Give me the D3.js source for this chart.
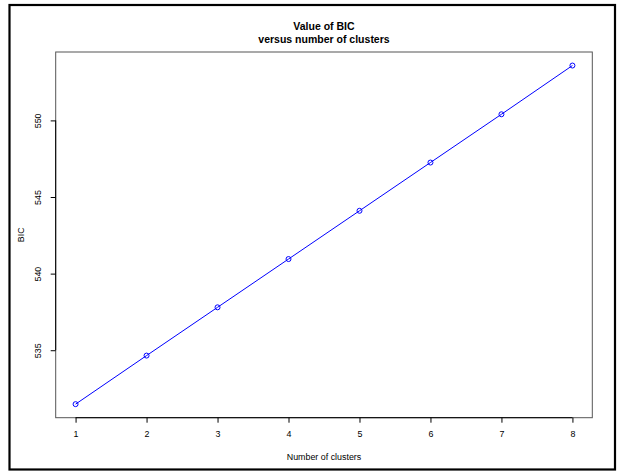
<!DOCTYPE html>
<html><head><meta charset="utf-8">
<script src="https://cdn.jsdelivr.net/npm/d3@7"></script>
<style>body{margin:0;background:#fff}svg{display:block}text{font-family:"Liberation Sans",Arial,Helvetica,sans-serif;fill:#000}</style>
</head><body><svg id="c" width="618" height="472"></svg>
<script>
const clusters = [1, 2, 3, 4, 5, 6, 7, 8];
const bic = [531.48, 534.65, 537.8, 540.95, 544.1, 547.25, 550.4, 553.58];
const xTicks = [1, 2, 3, 4, 5, 6, 7, 8];
const yTicks = [535, 540, 545, 550];
const titleLines = ["Value of BIC", "versus number of clusters"];
const xLabel = "Number of clusters";
const yLabel = "BIC";

const svg = d3.select("#c");
const L = 55.7, R = 592.3, T = 52, B = 417.7;
// R-style 4% padding
const xe = d3.extent(clusters), ye = d3.extent(bic);
const xp = (xe[1]-xe[0])*0.04, yp = (ye[1]-ye[0])*0.04;
const x = d3.scaleLinear().domain([xe[0]-xp, xe[1]+xp]).range([L, R]);
const y = d3.scaleLinear().domain([ye[0]-yp, ye[1]+yp]).range([B, T]);

// outer frame
svg.append("rect").attr("x", 9.5).attr("y", 5).attr("width", 605.5).attr("height", 464.5)
  .attr("fill", "none").attr("stroke", "#000").attr("stroke-width", 2.2);

// plot box
svg.append("rect").attr("x", L).attr("y", T).attr("width", R-L).attr("height", B-T)
  .attr("fill", "none").attr("stroke", "#555").attr("stroke-width", 1);

// x axis
const xa = svg.append("g").attr("transform", `translate(0,${B})`)
  .call(d3.axisBottom(x).tickValues(xTicks).tickSize(5).tickPadding(8).tickSizeOuter(0));
xa.select(".domain").remove();
xa.append("line").attr("x1", x(xTicks[0])).attr("x2", x(xTicks[xTicks.length-1])).attr("stroke", "#000");
xa.selectAll("text").style("font-size", "8.9px").attr("font-family", null);

// y axis
const ya = svg.append("g").attr("transform", `translate(${L},0)`)
  .call(d3.axisLeft(y).tickValues(yTicks).tickSize(5).tickSizeOuter(0));
ya.select(".domain").remove();
ya.append("line").attr("y1", y(yTicks[0])).attr("y2", y(yTicks[yTicks.length-1])).attr("stroke", "#000");
ya.selectAll(".tick text").attr("x", null).attr("dy", null)
  .attr("transform", "translate(-15,0) rotate(-90)")
  .attr("text-anchor", "middle").style("font-size", "8.9px").attr("font-family", null);

// line & points
svg.append("path").datum(clusters.map((c,i)=>[c,bic[i]]))
  .attr("fill", "none").attr("stroke", "#0000ff").attr("stroke-width", 1)
  .attr("d", d3.line().x(d=>x(d[0])).y(d=>y(d[1])));
svg.selectAll("circle.pt").data(clusters.map((c,i)=>[c,bic[i]])).enter().append("circle")
  .attr("cx", d=>x(d[0])).attr("cy", d=>y(d[1])).attr("r", 2.5)
  .attr("fill", "none").attr("stroke", "#0000ff").attr("stroke-width", 1);

// titles
const cx = (L+R)/2;
svg.append("text").attr("x", cx).attr("y", 30).attr("text-anchor", "middle")
  .style("font-size", "10.5px").style("font-weight", "bold").text(titleLines[0]);
svg.append("text").attr("x", cx).attr("y", 42.5).attr("text-anchor", "middle")
  .style("font-size", "10.5px").style("font-weight", "bold").text(titleLines[1]);
svg.append("text").attr("x", cx).attr("y", 460).attr("text-anchor", "middle")
  .style("font-size", "8.9px").text(xLabel);
svg.append("text").attr("transform", `translate(23.5,${(T+B)/2}) rotate(-90)`).attr("text-anchor", "middle")
  .style("font-size", "8.9px").text(yLabel);
</script></body></html>
